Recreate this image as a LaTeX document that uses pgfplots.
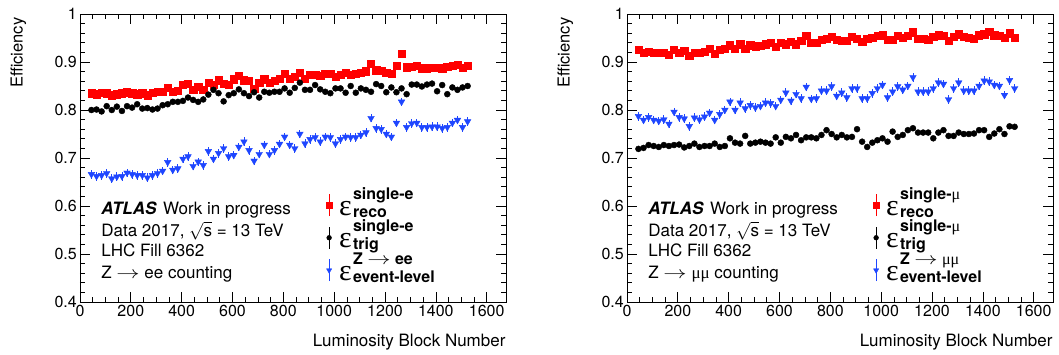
\documentclass[border=0pt]{standalone}
\usepackage{fontspec}
\setmainfont{TeX Gyre Heros}
\newfontfamily\symf{Liberation Serif}
\usepackage{graphicx}
\usepackage{pgfplots}
\usepackage{pgfplotstable}
\pgfplotsset{compat=1.18}
\definecolor{rred}{RGB}{255,0,0}
\definecolor{rblue}{RGB}{30,70,255}

\pgfplotstableread{
lb reco trig evt
45 0.835 0.800 0.666
65 0.833 0.801 0.662
85 0.836 0.797 0.664
105 0.835 0.808 0.668
125 0.831 0.800 0.657
145 0.833 0.807 0.661
165 0.835 0.798 0.662
185 0.837 0.808 0.669
205 0.835 0.805 0.666
225 0.833 0.812 0.664
245 0.835 0.803 0.664
265 0.831 0.804 0.659
285 0.836 0.801 0.664
305 0.838 0.803 0.668
325 0.838 0.810 0.673
345 0.847 0.812 0.691
365 0.838 0.817 0.675
385 0.840 0.817 0.678
405 0.852 0.819 0.698
425 0.854 0.826 0.703
445 0.843 0.821 0.683
465 0.849 0.817 0.692
485 0.842 0.822 0.685
505 0.857 0.832 0.714
525 0.852 0.842 0.698
545 0.862 0.835 0.710
565 0.854 0.818 0.720
585 0.853 0.831 0.703
605 0.864 0.835 0.706
625 0.871 0.843 0.723
645 0.862 0.835 0.734
665 0.861 0.829 0.716
685 0.845 0.837 0.694
705 0.857 0.826 0.708
725 0.864 0.838 0.727
745 0.857 0.836 0.708
765 0.861 0.838 0.716
785 0.866 0.838 0.729
805 0.875 0.845 0.744
825 0.866 0.836 0.727
845 0.869 0.846 0.720
865 0.878 0.857 0.750
885 0.866 0.842 0.730
905 0.873 0.842 0.739
925 0.874 0.852 0.743
945 0.871 0.843 0.734
965 0.876 0.838 0.744
985 0.875 0.835 0.743
1005 0.869 0.845 0.730
1025 0.874 0.845 0.739
1045 0.878 0.836 0.744
1065 0.874 0.850 0.743
1085 0.876 0.836 0.743
1105 0.878 0.845 0.748
1125 0.881 0.842 0.753
1145 0.896 0.838 0.783
1165 0.883 0.854 0.762
1185 0.882 0.850 0.760
1205 0.878 0.837 0.750
1225 0.876 0.847 0.744
1245 0.892 0.837 0.773
1265 0.917 0.845 0.817
1285 0.889 0.833 0.764
1305 0.890 0.853 0.772
1325 0.892 0.853 0.773
1345 0.887 0.849 0.764
1365 0.887 0.853 0.764
1385 0.888 0.855 0.765
1405 0.888 0.839 0.765
1425 0.887 0.852 0.762
1445 0.890 0.833 0.764
1465 0.892 0.847 0.773
1485 0.894 0.842 0.779
1505 0.888 0.847 0.764
1525 0.892 0.850 0.776
}\tabE

\pgfplotstableread{
lb reco trig evt
45 0.926 0.719 0.787
65 0.920 0.721 0.779
85 0.922 0.727 0.785
105 0.919 0.725 0.779
125 0.919 0.723 0.777
145 0.920 0.727 0.780
165 0.916 0.725 0.771
185 0.926 0.727 0.796
205 0.920 0.728 0.785
225 0.923 0.722 0.782
245 0.913 0.725 0.766
265 0.919 0.730 0.784
285 0.920 0.723 0.780
305 0.921 0.725 0.786
325 0.927 0.725 0.794
345 0.918 0.730 0.779
365 0.925 0.723 0.791
385 0.927 0.725 0.800
405 0.935 0.741 0.817
425 0.928 0.732 0.800
445 0.937 0.730 0.815
465 0.928 0.746 0.803
485 0.935 0.730 0.810
505 0.933 0.732 0.805
525 0.934 0.734 0.808
545 0.937 0.732 0.815
565 0.940 0.730 0.814
585 0.932 0.743 0.808
605 0.941 0.732 0.821
625 0.937 0.744 0.836
645 0.942 0.741 0.819
665 0.937 0.748 0.833
685 0.944 0.737 0.824
705 0.954 0.743 0.848
725 0.941 0.743 0.823
745 0.940 0.741 0.824
765 0.946 0.748 0.840
785 0.949 0.758 0.840
805 0.953 0.750 0.849
825 0.947 0.743 0.829
845 0.944 0.748 0.836
865 0.944 0.743 0.826
885 0.953 0.744 0.845
905 0.949 0.760 0.845
925 0.942 0.734 0.824
945 0.949 0.723 0.824
965 0.951 0.732 0.835
985 0.955 0.737 0.845
1005 0.956 0.741 0.852
1025 0.946 0.734 0.826
1045 0.946 0.755 0.838
1065 0.954 0.744 0.849
1085 0.951 0.748 0.842
1105 0.954 0.758 0.850
1125 0.962 0.762 0.868
1145 0.949 0.753 0.838
1165 0.948 0.753 0.838
1185 0.946 0.753 0.838
1205 0.953 0.741 0.845
1225 0.956 0.753 0.857
1245 0.954 0.758 0.854
1265 0.944 0.746 0.822
1285 0.953 0.746 0.845
1305 0.958 0.753 0.857
1325 0.953 0.750 0.840
1345 0.951 0.750 0.840
1365 0.949 0.751 0.840
1385 0.956 0.758 0.850
1405 0.958 0.758 0.861
1425 0.963 0.744 0.859
1445 0.956 0.751 0.852
1465 0.955 0.760 0.850
1485 0.951 0.750 0.831
1505 0.960 0.766 0.862
1525 0.951 0.765 0.845
}\tabM

\newcommand{\effl}[2]{{\fontsize{30}{30}\selectfont\symf ε}\hspace{1.5pt}\makebox[0pt][l]{\raisebox{16pt}{\fontsize{16}{16}\selectfont\bfseries #1}}\raisebox{-2pt}{\fontsize{16}{16}\selectfont\bfseries #2}}
\newcommand{\txt}{\fontsize{17}{17}\selectfont}
\newcommand{\arr}{\scalebox{1.35}[1]{$\rightarrow$}}

\pgfplotsset{
  rootstyle/.style={
    scale only axis, width=426pt, height=288pt,
    xmin=0, xmax=1676, ymin=0.4, ymax=1,
    xtick={0,200,...,1600}, ytick={0.4,0.5,0.6,0.7,0.8,0.9,1},
    minor x tick num=3, minor y tick num=4,
    tick align=inside, major tick length=10pt, minor tick length=5pt,
    tick pos=both,
    tick label style={font=\fontsize{16}{16}\selectfont},
    /pgf/number format/assume math mode=true,
    /pgf/number format/1000 sep={},
    yticklabel style={/pgf/number format/fixed, /pgf/number format/precision=1, inner sep=0pt, xshift=-3pt},
    xticklabel style={inner sep=0pt, yshift=-3pt},
    axis line style={line width=0.7pt},
    every tick/.style={line width=0.7pt, black},
    clip=false,
    legend style={draw=none, fill=none, inner sep=0pt, row sep=8.5pt, column sep=7pt,
      at={(axis cs:968,0.627)}, anchor=north west,
      nodes={inner sep=0pt, text height=22pt, text depth=2pt}},
    legend cell align=left,
  },
  myleg/.style={legend image code/.code={\draw[##1, solid, line width=0.8pt] (0pt,-11pt) -- (0pt,11pt); \draw[##1, every mark/.append style={scale=0.8}] plot coordinates {(0pt,0pt)};}},
}

\begin{document}
\begin{tikzpicture}
\path[use as bounding box] (-80pt,-52pt) rectangle (979pt,302pt);
\begin{axis}[rootstyle, at={(0pt,0pt)}, anchor=south west]
\addplot[only marks, mark=square*, color=rred, mark size=3.6pt, myleg] table[x=lb,y=reco]{\tabE};
\addlegendentry{\effl{single-e}{reco}}
\addplot[only marks, mark=*, color=black, mark size=3pt, myleg] table[x=lb,y=trig]{\tabE};
\addlegendentry{\effl{single-e}{trig}}
\addplot[only marks, mark=triangle*, color=rblue, mark size=3.8pt, mark options={rotate=180}, myleg,
  error bars/.cd, y dir=both, y fixed=0.009, error mark=none, error bar style={line width=0.8pt}] table[x=lb,y=evt]{\tabE};
\addlegendentry{\effl{Z {\mdseries\arr} ee}{event-level}}
\node[anchor=base west, font=\txt] at (axis cs:70,0.582) {{\bfseries\itshape ATLAS}\hspace{2pt} Work in progress};
\node[anchor=base west, font=\txt] at (axis cs:70,0.5375) {Data 2017, $\sqrt{\mbox{s}}$ = 13 TeV};
\node[anchor=base west, font=\txt] at (axis cs:70,0.494) {LHC Fill 6362};
\node[anchor=base west, font=\txt] at (axis cs:70,0.45) {Z \arr\ ee counting};
\node[anchor=base east, font=\fontsize{17}{17}\selectfont] at ([xshift=3pt,yshift=-44pt]rel axis cs:1,0) {Luminosity Block Number};
\node[rotate=90, anchor=east, font=\fontsize{16.5}{16.5}\selectfont] at ([xshift=-61.5pt]rel axis cs:0,1) {Efficiency};
\end{axis}
\begin{axis}[rootstyle, at={(547pt,0pt)}, anchor=south west]
\addplot[only marks, mark=square*, color=rred, mark size=3.6pt, myleg] table[x=lb,y=reco]{\tabM};
\addlegendentry{\effl{single-{\symf\mdseries μ}}{reco}}
\addplot[only marks, mark=*, color=black, mark size=3pt, myleg] table[x=lb,y=trig]{\tabM};
\addlegendentry{\effl{single-{\symf\mdseries μ}}{trig}}
\addplot[only marks, mark=triangle*, color=rblue, mark size=3.8pt, mark options={rotate=180}, myleg,
  error bars/.cd, y dir=both, y fixed=0.009, error mark=none, error bar style={line width=0.8pt}] table[x=lb,y=evt]{\tabM};
\addlegendentry{\effl{Z {\mdseries\arr} {\symf\mdseries μμ}}{event-level}}
\node[anchor=base west, font=\txt] at (axis cs:70,0.582) {{\bfseries\itshape ATLAS}\hspace{2pt} Work in progress};
\node[anchor=base west, font=\txt] at (axis cs:70,0.5375) {Data 2017, $\sqrt{\mbox{s}}$ = 13 TeV};
\node[anchor=base west, font=\txt] at (axis cs:70,0.494) {LHC Fill 6362};
\node[anchor=base west, font=\txt] at (axis cs:70,0.45) {Z \arr\ {\symf μμ} counting};
\node[anchor=base east, font=\fontsize{17}{17}\selectfont] at ([xshift=3pt,yshift=-44pt]rel axis cs:1,0) {Luminosity Block Number};
\node[rotate=90, anchor=east, font=\fontsize{16.5}{16.5}\selectfont] at ([xshift=-61.5pt]rel axis cs:0,1) {Efficiency};
\end{axis}
\end{tikzpicture}
\end{document}
